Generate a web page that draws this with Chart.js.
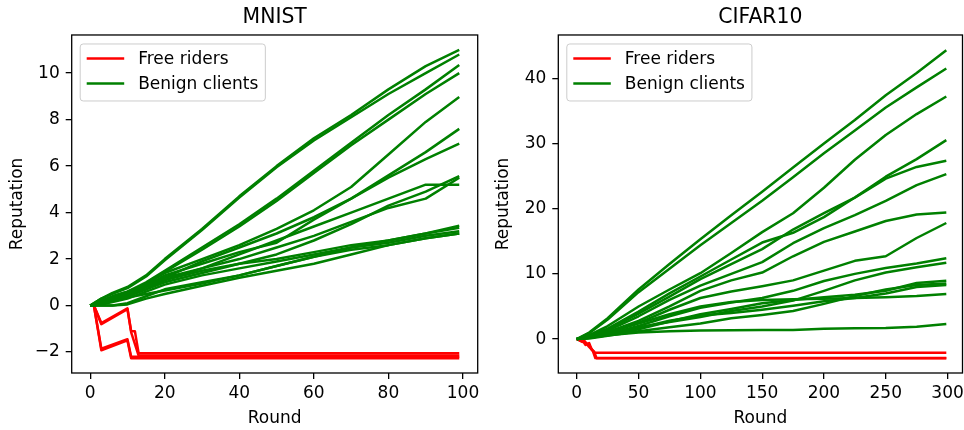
<!DOCTYPE html>
<html>
<head>
<meta charset="utf-8">
<script src="https://cdn.jsdelivr.net/npm/chart.js@4.4.0/dist/chart.umd.min.js"></script>
<style>
  html, body { margin: 0; padding: 0; background: #fff; }
  #wrap { position: relative; width: 964px; height: 430px; overflow: hidden; }
  .panel { position: absolute; top: 0; }
</style>
</head>
<body>
<div id="wrap">
  <canvas id="mnist" class="panel" width="482" height="430" style="left:0"></canvas>
  <canvas id="cifar" class="panel" width="482" height="430" style="left:482px"></canvas>
</div>
<script>
const legendLabels = ['Free riders', 'Benign clients'];
const legendColors = ['#ff0000', '#008000'];

// MNIST
const mnistXTicks = [0, 20, 40, 60, 80, 100];
const mnistYTicks = [-2, 0, 2, 4, 6, 8, 10];
const mnistRounds = [0, 3, 6, 10, 15, 20, 30, 40, 50, 60, 70, 80, 90, 99];
const mnistBenign = [
  [0, 0.3, 0.55, 0.8, 1.3, 2.0, 3.3, 4.7, 6.0, 7.2, 8.2, 9.3, 10.3, 11.0],
  [0, 0.3, 0.5, 0.75, 1.25, 1.95, 3.25, 4.65, 5.95, 7.1, 8.1, 9.1, 10.0, 10.8],
  [0, 0.2, 0.4, 0.6, 1.0, 1.5, 2.5, 3.5, 4.6, 5.8, 7.0, 8.2, 9.3, 10.35],
  [0, 0.2, 0.35, 0.55, 0.95, 1.45, 2.4, 3.4, 4.5, 5.7, 6.9, 8.0, 9.1, 10.0],
  [0, 0.15, 0.3, 0.5, 0.9, 1.4, 2.0, 2.6, 3.3, 4.1, 5.1, 6.5, 7.9, 8.97],
  [0, 0.1, 0.25, 0.45, 0.8, 1.3, 1.8, 2.3, 2.7, 3.7, 4.6, 5.6, 6.6, 7.6],
  [0, 0.15, 0.3, 0.5, 0.85, 1.2, 1.9, 2.5, 3.1, 3.8, 4.6, 5.5, 6.3, 6.97],
  [0, 0.1, 0.2, 0.4, 0.7, 1.0, 1.4, 1.8, 2.2, 2.8, 3.5, 4.3, 4.9, 5.57],
  [0, 0.2, 0.4, 0.6, 0.9, 1.2, 1.6, 2.0, 2.5, 3.0, 3.6, 4.2, 4.6, 5.5],
  [0, 0.1, 0.25, 0.4, 0.7, 1.1, 1.6, 2.2, 2.8, 3.4, 4.0, 4.6, 5.2, 5.2],
  [0, 0.1, 0.3, 0.5, 0.8, 1.1, 1.5, 1.8, 2.0, 2.3, 2.6, 2.8, 3.1, 3.44],
  [0, 0.05, 0.15, 0.3, 0.6, 0.9, 1.3, 1.6, 1.9, 2.2, 2.5, 2.8, 3.1, 3.35],
  [0, 0, 0, 0.1, 0.4, 0.7, 1.0, 1.3, 1.7, 2.1, 2.5, 2.7, 3.0, 3.2],
  [0, 0.1, 0.2, 0.35, 0.5, 0.65, 0.95, 1.3, 1.7, 2.1, 2.4, 2.6, 2.9, 3.1],
  [0, 0, 0, 0.05, 0.3, 0.5, 0.85, 1.2, 1.5, 1.8, 2.2, 2.6, 2.9, 3.1]
];
const mnistFreeRounds = [
  [0, 1, 3, 10, 11, 12, 13, 99],
  [0, 1, 3, 10, 11, 13, 99],
  [0, 1, 3, 10, 11, 99],
  [0, 1, 3, 10, 11, 99]
];
const mnistFreeValues = [
  [0, 0, -0.75, -0.12, -1.1, -1.1, -2.05, -2.05],
  [0, 0, -0.8, -0.15, -1.15, -2.15, -2.15],
  [0, 0, -1.92, -1.5, -2.27, -2.27],
  [0, 0, -1.85, -1.45, -2.2, -2.2]
];

// CIFAR10
const cifarXTicks = [0, 50, 100, 150, 200, 250, 300];
const cifarYTicks = [0, 10, 20, 30, 40];
const cifarRounds = [0, 10, 25, 50, 75, 100, 125, 150, 175, 200, 225, 250, 275, 299];
const cifarBenign = [
  [0, 1.0, 3.2, 7.6, 11.5, 15.3, 19.0, 22.6, 26.3, 30.0, 33.6, 37.4, 40.8, 44.3],
  [0, 0.9, 3.0, 7.2, 10.8, 14.4, 17.8, 21.2, 24.8, 28.5, 32.0, 35.5, 38.6, 41.5],
  [0, 0.6, 2.0, 5.0, 7.6, 10.1, 13.2, 16.4, 19.3, 23.2, 27.5, 31.3, 34.5, 37.2],
  [0, 0.5, 1.6, 4.2, 7.0, 9.6, 12.2, 14.8, 16.3, 18.7, 21.7, 24.9, 27.6, 30.5],
  [0, 0.5, 1.5, 3.9, 6.5, 9.2, 11.5, 13.8, 16.8, 19.3, 21.7, 24.6, 26.4, 27.35],
  [0, 0.4, 1.3, 3.5, 6.0, 8.2, 10.0, 11.8, 14.7, 17.0, 19.0, 21.2, 23.6, 25.3],
  [0, 0.3, 1.1, 2.8, 5.0, 7.4, 9.0, 10.2, 12.7, 14.9, 16.5, 18.1, 19.1, 19.4],
  [0, 0.3, 1.0, 2.5, 4.5, 6.3, 7.3, 8.1, 9.0, 10.5, 12.0, 12.7, 15.5, 17.8],
  [0, 0.2, 0.8, 2.0, 3.5, 4.8, 5.6, 6.3, 7.4, 8.9, 10.0, 10.9, 11.6, 12.4],
  [0, 0.2, 0.7, 1.8, 2.6, 3.4, 4.3, 5.0, 5.9, 7.4, 9.0, 10.2, 11.0, 11.7],
  [0, 0.2, 0.6, 1.5, 2.7, 3.8, 4.6, 5.5, 6.0, 6.4, 6.8, 7.4, 8.6, 8.95],
  [0, 0.1, 0.5, 1.2, 1.8, 2.4, 3.2, 3.7, 4.3, 5.4, 6.6, 7.6, 8.3, 8.54],
  [0, 0.2, 0.7, 1.7, 2.8, 3.6, 4.0, 4.5, 5.1, 5.8, 6.3, 7.0, 8.0, 8.3],
  [0, 0.3, 1.0, 2.4, 3.8, 5.0, 5.7, 6.0, 6.1, 6.2, 6.3, 6.4, 6.6, 6.9],
  [0, 0.2, 0.6, 1.0, 1.2, 1.3, 1.35, 1.38, 1.4, 1.6, 1.65, 1.7, 1.9, 2.3]
];
const cifarFreeRounds = [
  [0, 5, 7, 9, 12, 14, 299],
  [0, 6, 8, 10, 12, 14, 16, 299],
  [0, 4, 7, 10, 13, 15, 299]
];
const cifarFreeValues = [
  [0, -0.3, -0.9, -0.7, -1.5, -2.1, -2.1],
  [0, -0.2, -0.8, -0.6, -1.6, -1.9, -2.95, -2.95],
  [0, -0.4, -0.5, -1.2, -1.8, -2.9, -2.9]
];

const FONT = '"DejaVu Sans", sans-serif';

function buildSets(rounds, benign, freeRounds, freeValues) {
  const sets = [];
  freeValues.forEach((vals, i) => {
    sets.push({
      data: vals.map((v, j) => ({ x: freeRounds[i][j], y: v })),
      borderColor: legendColors[0], order: 1
    });
  });
  benign.forEach(vals => {
    sets.push({
      data: vals.map((v, j) => ({ x: rounds[j], y: v })),
      borderColor: legendColors[1], order: 0
    });
  });
  return sets;
}

function fmt(v) {
  return v < 0 ? '\u2212' + Math.abs(v) : String(v);
}

// axes frame (matplotlib spines)
const framePlugin = {
  id: 'frame',
  afterDatasetsDraw(chart) {
    const a = chart.chartArea, ctx = chart.ctx;
    ctx.save();
    ctx.strokeStyle = '#000';
    ctx.lineWidth = 1.3;
    ctx.strokeRect(a.left, a.top, a.right - a.left, a.bottom - a.top);
    ctx.restore();
  }
};

// legend box in the upper left corner
const legendPlugin = {
  id: 'legendBox',
  afterDraw(chart) {
    const a = chart.chartArea, ctx = chart.ctx;
    ctx.save();
    ctx.font = '17px ' + FONT;
    const textW = Math.max(...legendLabels.map(t => ctx.measureText(t).width));
    const x = a.left + 8.5, y = a.top + 9, w = 58 + textW + 7, h = 57;
    ctx.beginPath();
    ctx.roundRect(x, y, w, h, 3);
    ctx.fillStyle = 'rgba(255,255,255,0.8)';
    ctx.fill();
    ctx.strokeStyle = '#cccccc';
    ctx.lineWidth = 1;
    ctx.stroke();
    legendLabels.forEach((label, i) => {
      const cy = y + 14.5 + i * 25;
      ctx.beginPath();
      ctx.moveTo(x + 6.5, cy);
      ctx.lineTo(x + 44, cy);
      ctx.strokeStyle = legendColors[i];
      ctx.lineWidth = 2.5;
      ctx.stroke();
      ctx.fillStyle = '#000';
      ctx.textBaseline = 'middle';
      ctx.fillText(label, x + 58, cy + 1);
    });
    ctx.restore();
  }
};

function makeChart(id, title, sets, xRange, yRange, xTicks, yTicks, yAxisW, padRight, yTitlePad) {
  const tickFont = { family: FONT, size: 17 };
  return new Chart(document.getElementById(id), {
    type: 'line',
    data: { datasets: sets },
    options: {
      responsive: false,
      animation: false,
      events: [],
      layout: { padding: { left: 0, right: padRight, top: 0, bottom: 0 } },
      elements: {
        line: { borderWidth: 2.5, tension: 0, borderJoinStyle: 'round', fill: false },
        point: { radius: 0 }
      },
      plugins: {
        legend: { display: false },
        tooltip: { enabled: false },
        title: {
          display: true, text: title, fullSize: false, color: '#000',
          font: { family: FONT, size: 20.4, weight: 'normal' },
          padding: { top: 5.8, bottom: 4.7 }
        }
      },
      scales: {
        x: {
          type: 'linear', min: xRange[0], max: xRange[1],
          afterBuildTicks: s => { s.ticks = xTicks.map(v => ({ value: v })); },
          afterFit: s => { s.height = 57; s.paddingLeft = 0; s.paddingRight = 0; },
          grid: { drawOnChartArea: false, drawTicks: true, tickLength: 6, color: '#000', lineWidth: 1.3 },
          border: { display: false },
          ticks: { color: '#000', font: tickFont, padding: 4, maxRotation: 0, autoSkip: false, callback: fmt },
          title: { display: true, text: 'Round', color: '#000', font: tickFont, padding: { top: 0, bottom: 1 } }
        },
        y: {
          type: 'linear', min: yRange[0], max: yRange[1],
          afterBuildTicks: s => { s.ticks = yTicks.map(v => ({ value: v })); },
          afterFit: s => { s.width = yAxisW; s.paddingTop = 0; s.paddingBottom = 0; },
          grid: { drawOnChartArea: false, drawTicks: true, tickLength: 6, color: '#000', lineWidth: 1.3 },
          border: { display: false },
          ticks: { color: '#000', font: tickFont, padding: 6, callback: fmt },
          title: { display: true, text: 'Reputation', color: '#000', font: tickFont, padding: { top: yTitlePad, bottom: 0 } }
        }
      }
    },
    plugins: [framePlugin, legendPlugin]
  });
}

makeChart('mnist', 'MNIST',
  buildSets(mnistRounds, mnistBenign, mnistFreeRounds, mnistFreeValues),
  [-4.95, 103.95], [-2.9, 11.64], mnistXTicks, mnistYTicks, 71.7, 4.3, 7);

makeChart('cifar', 'CIFAR10',
  buildSets(cifarRounds, cifarBenign, cifarFreeRounds, cifarFreeValues),
  [-14.95, 312.1], [-5.2, 46.63], cifarXTicks, cifarYTicks, 76.3, 1.5, 11);
</script>
</body>
</html>
